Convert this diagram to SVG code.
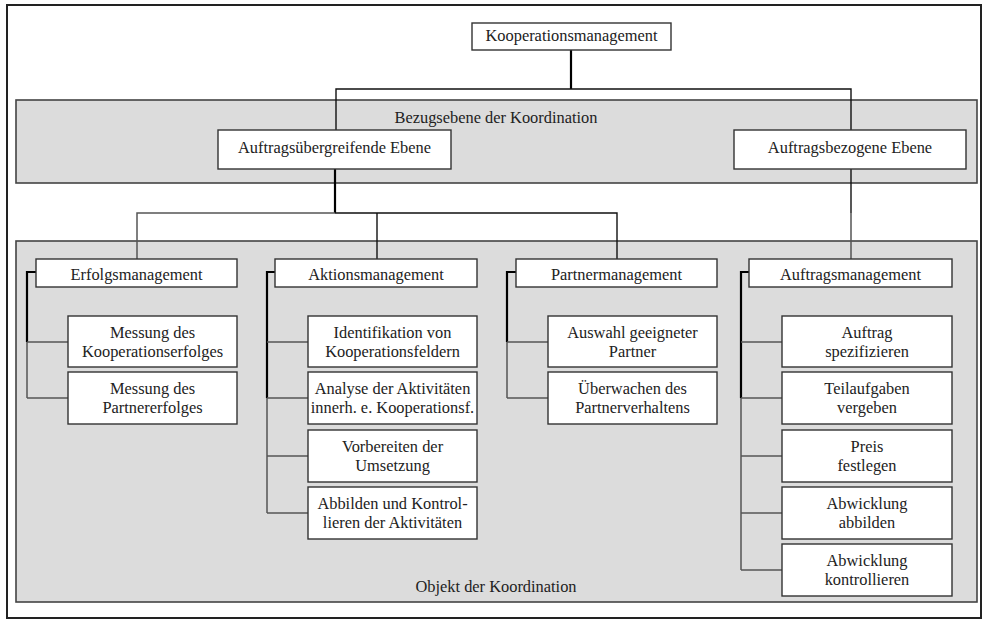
<svg xmlns="http://www.w3.org/2000/svg" width="985" height="623" viewBox="0 0 985 623" font-family="'Liberation Serif', 'DejaVu Serif', serif">
  <style>
    text { font-family: 'Liberation Serif', 'DejaVu Serif', serif; font-size: 16.4px; fill: #222; text-anchor: middle; }
    .frame { fill: #fff; stroke: #222; stroke-width: 2; }
    .band { fill: #dcdcdc; stroke: #444; stroke-width: 1.6; }
    .box { fill: #fff; stroke: #333; stroke-width: 1.4; }
    .trunk { fill: none; stroke: #000; stroke-width: 2.2; }
    .link { fill: none; stroke: #111; stroke-width: 1.4; }
    .branch { fill: none; stroke: #555; stroke-width: 1.5; }
  </style>

  <!-- outer frame -->
  <rect class="frame" x="7" y="5" width="974" height="613"/>

  <!-- coordination layers -->
  <g id="layer-bezugsebene">
    <rect class="band" x="16" y="100" width="961" height="83"/>
    <text x="496" y="123">Bezugsebene der Koordination</text>
  </g>
  <g id="layer-objekt">
    <rect class="band" x="16" y="241" width="961" height="361"/>
    <text x="496" y="592">Objekt der Koordination</text>
  </g>

  <!-- connectors -->
  <g id="connectors">
    <!-- root to levels -->
    <path class="trunk" d="M571,50 V89"/>
    <path class="link" d="M336,130 V89 H851 V130"/>
    <!-- Auftragsübergreifende Ebene to the three management areas -->
    <path class="trunk" d="M335,169 V213"/>
    <path class="branch" d="M137,259 V213 H335"/>
    <path class="link" d="M335,213 H617 V259"/>
    <path class="link" d="M377,213 V259"/>
    <!-- Auftragsbezogene Ebene to Auftragsmanagement -->
    <path class="link" d="M851,169 V213"/>
    <path class="branch" d="M851,213 V259"/>

    <!-- Erfolgsmanagement bracket -->
    <path class="trunk" d="M36,272 H27 V342"/>
    <path class="branch" d="M27,342 V398"/>
    <path class="branch" d="M27,342 H68 M27,398 H68"/>

    <!-- Aktionsmanagement bracket -->
    <path class="trunk" d="M275,272 H267 V398"/>
    <path class="branch" d="M267,398 V513"/>
    <path class="branch" d="M267,342 H308 M267,398 H308 M267,456 H308 M267,513 H308"/>

    <!-- Partnermanagement bracket -->
    <path class="trunk" d="M516,272 H507 V342"/>
    <path class="branch" d="M507,342 V398"/>
    <path class="branch" d="M507,342 H548 M507,398 H548"/>

    <!-- Auftragsmanagement bracket -->
    <path class="trunk" d="M749,272 H741 V398"/>
    <path class="branch" d="M741,398 V570"/>
    <path class="branch" d="M741,342 H782 M741,398 H782 M741,456 H782 M741,513 H782 M741,570 H782"/>
  </g>

  <!-- root -->
  <g id="kooperationsmanagement">
    <rect class="box" x="472" y="23" width="199" height="27"/>
    <text x="571.5" y="41">Kooperationsmanagement</text>
  </g>

  <!-- reference levels -->
  <g id="auftragsuebergreifende-ebene">
    <rect class="box" x="218" y="130" width="233" height="39"/>
    <text x="334.5" y="153">Auftragsübergreifende Ebene</text>
  </g>
  <g id="auftragsbezogene-ebene">
    <rect class="box" x="734" y="130" width="232" height="39"/>
    <text x="850" y="153">Auftragsbezogene Ebene</text>
  </g>

  <!-- management areas -->
  <g id="erfolgsmanagement">
    <rect class="box" x="36" y="259" width="201" height="28"/>
    <text x="136.5" y="280">Erfolgsmanagement</text>
  </g>
  <g id="aktionsmanagement">
    <rect class="box" x="275" y="259" width="202" height="28"/>
    <text x="376" y="280">Aktionsmanagement</text>
  </g>
  <g id="partnermanagement">
    <rect class="box" x="516" y="259" width="201" height="28"/>
    <text x="616.5" y="280">Partnermanagement</text>
  </g>
  <g id="auftragsmanagement">
    <rect class="box" x="749" y="259" width="203" height="28"/>
    <text x="850.5" y="280">Auftragsmanagement</text>
  </g>

  <!-- Erfolgsmanagement tasks -->
  <g id="messung-kooperationserfolg">
    <rect class="box" x="68" y="316" width="169" height="51"/>
    <text x="152.5" y="338">Messung des</text>
    <text x="152.5" y="357">Kooperationserfolges</text>
  </g>
  <g id="messung-partnererfolg">
    <rect class="box" x="68" y="372" width="169" height="52"/>
    <text x="152.5" y="394">Messung des</text>
    <text x="152.5" y="413">Partnererfolges</text>
  </g>

  <!-- Aktionsmanagement tasks -->
  <g id="identifikation">
    <rect class="box" x="308" y="316" width="169" height="51"/>
    <text x="392.5" y="338">Identifikation von</text>
    <text x="392.5" y="357">Kooperationsfeldern</text>
  </g>
  <g id="analyse">
    <rect class="box" x="308" y="372" width="169" height="52"/>
    <text x="392.5" y="394">Analyse der Aktivitäten</text>
    <text x="392.5" y="413">innerh. e. Kooperationsf.</text>
  </g>
  <g id="vorbereiten">
    <rect class="box" x="308" y="430" width="169" height="52"/>
    <text x="392.5" y="452">Vorbereiten der</text>
    <text x="392.5" y="471">Umsetzung</text>
  </g>
  <g id="abbilden-kontrollieren">
    <rect class="box" x="308" y="487" width="169" height="52"/>
    <text x="392.5" y="509">Abbilden und Kontrol-</text>
    <text x="392.5" y="528">lieren der Aktivitäten</text>
  </g>

  <!-- Partnermanagement tasks -->
  <g id="auswahl-partner">
    <rect class="box" x="548" y="316" width="169" height="51"/>
    <text x="632.5" y="338">Auswahl geeigneter</text>
    <text x="632.5" y="357">Partner</text>
  </g>
  <g id="ueberwachen-partner">
    <rect class="box" x="548" y="372" width="169" height="52"/>
    <text x="632.5" y="394">Überwachen des</text>
    <text x="632.5" y="413">Partnerverhaltens</text>
  </g>

  <!-- Auftragsmanagement tasks -->
  <g id="auftrag-spezifizieren">
    <rect class="box" x="782" y="316" width="170" height="51"/>
    <text x="867" y="338">Auftrag</text>
    <text x="867" y="357">spezifizieren</text>
  </g>
  <g id="teilaufgaben-vergeben">
    <rect class="box" x="782" y="372" width="170" height="52"/>
    <text x="867" y="394">Teilaufgaben</text>
    <text x="867" y="413">vergeben</text>
  </g>
  <g id="preis-festlegen">
    <rect class="box" x="782" y="430" width="170" height="52"/>
    <text x="867" y="452">Preis</text>
    <text x="867" y="471">festlegen</text>
  </g>
  <g id="abwicklung-abbilden">
    <rect class="box" x="782" y="487" width="170" height="52"/>
    <text x="867" y="509">Abwicklung</text>
    <text x="867" y="528">abbilden</text>
  </g>
  <g id="abwicklung-kontrollieren">
    <rect class="box" x="782" y="544" width="170" height="52"/>
    <text x="867" y="566">Abwicklung</text>
    <text x="867" y="585">kontrollieren</text>
  </g>
</svg>
